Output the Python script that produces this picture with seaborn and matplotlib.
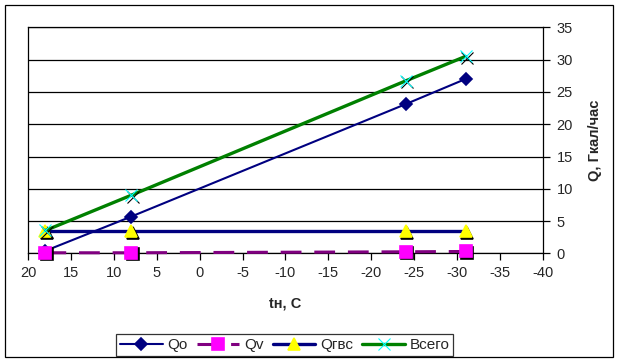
import matplotlib
matplotlib.use('Agg')
import matplotlib.pyplot as plt
import pandas as pd
import seaborn as sns
from matplotlib.patches import Rectangle
from matplotlib.transforms import offset_copy

# Outdoor temperature, C
tn = [18, 8, -24, -31]

# Heat loads, Gcal/h
qo = [0.4, 5.7, 23.1, 27.0]
qv = [0.1, 0.1, 0.25, 0.3]
qgvs = [3.45, 3.45, 3.45, 3.45]
vsego = [3.55, 9.0, 26.7, 30.5]

names = ['Qo', 'Qv', 'Qгвс', 'Всего']

df = pd.DataFrame({'tn': tn, 'Qo': qo, 'Qv': qv, 'Qгвс': qgvs, 'Всего': vsego})

sns.set_style('white')
plt.rcParams['font.family'] = ['Liberation Sans', 'DejaVu Sans']
plt.rcParams['font.size'] = 10
plt.rcParams['axes.unicode_minus'] = False

fig = plt.figure(figsize=(6.2, 3.64), dpi=100)
ax = fig.add_axes([0.0456, 0.3038, 0.8297, 0.6211])

# Series styles (Excel-like)
styles = {
    'Qo': dict(color='#000080', lw=1.5, marker='D', ms=6.5, mfc='#000080',
               mec='#000080', mew=1.2, ls='-', shadow=False),
    'Qv': dict(color='#800080', lw=2.2, marker='s', ms=8.5, mfc='#ff00ff',
               mec='#ff00ff', mew=1.2, ls=(0, (6.8, 4.2)), shadow=True),
    'Qгвс': dict(color='#000080', lw=2.4, marker='^', ms=8.5, mfc='#ffff00',
                 mec='#ffff00', mew=1.2, ls='-', shadow=True),
    'Всего': dict(color='#008000', lw=2.4, marker='x', ms=8, mfc='#00ffff',
                  mec='#00ffff', mew=0.8, ls='-', shadow=True),
}

shadow_tr = offset_copy(ax.transData, fig=fig, x=1.5, y=-1.5, units='dots')

z = 3
for name in names:
    st = styles[name]
    sns.lineplot(data=df, x='tn', y=name, ax=ax, color=st['color'],
                 lw=st['lw'], ls=st['ls'], label=name, zorder=z,
                 clip_on=False, sort=False)
    if st['shadow']:
        ax.plot(df['tn'], df[name], ls='none', marker=st['marker'],
                ms=st['ms'], color='black', mew=st['mew'], transform=shadow_tr,
                zorder=z + 0.5, clip_on=False, label='_nolegend_')
    ax.plot(df['tn'], df[name], ls='none', marker=st['marker'], ms=st['ms'],
            mfc=st['mfc'], mec=st['mec'], mew=st['mew'], zorder=z + 1,
            clip_on=False, label='_nolegend_')
    z += 2

# axes
ax.set_xlim(20, -40)
ax.set_ylim(0, 35)
ax.set_xticks(range(20, -41, -5))
ax.set_yticks(range(0, 36, 5))
ax.yaxis.tick_right()
ax.yaxis.set_label_position('right')
ax.grid(axis='y', color='black', lw=0.9)
ax.grid(axis='x', visible=False)
ax.set_axisbelow(True)
for sp in ax.spines.values():
    sp.set_color('black')
    sp.set_linewidth(0.9)
ax.tick_params(axis='x', direction='out', length=5, width=0.9, color='black',
               bottom=True, pad=4, labelsize=10.5)
ax.tick_params(axis='y', direction='out', length=5, width=0.9, color='black',
               right=True, left=False, pad=5, labelsize=10.5)

ax.set_xlabel('tн, С', fontweight='bold', fontsize=10.5, labelpad=12)
ax.set_ylabel('Q, Гкал/час', fontweight='bold', fontsize=10.5, labelpad=11)

# legend: rebuild handles with line + marker
handles = []
for name in names:
    st = styles[name]
    h, = ax.plot([], [], color=st['color'], lw=st['lw'], ls=st['ls'],
                 marker=st['marker'], ms=st['ms'], mfc=st['mfc'],
                 mec=st['mec'], mew=st['mew'])
    handles.append(h)
leg = ax.legend(handles, names, loc='lower center', ncol=4,
                bbox_to_anchor=(0.459, 0.022), bbox_transform=fig.transFigure,
                frameon=True, fancybox=False, edgecolor='black',
                fontsize=11, handlelength=2.8, handletextpad=0.3,
                columnspacing=0.6, borderpad=0.25, borderaxespad=0)
leg.get_frame().set_linewidth(0.9)

# outer chart border
fig.patches.append(Rectangle((0.0085, 0.0192), 0.980, 0.966, fill=False,
                             edgecolor='black', lw=0.9,
                             transform=fig.transFigure, figure=fig))

fig.savefig('out.png', dpi=100)
